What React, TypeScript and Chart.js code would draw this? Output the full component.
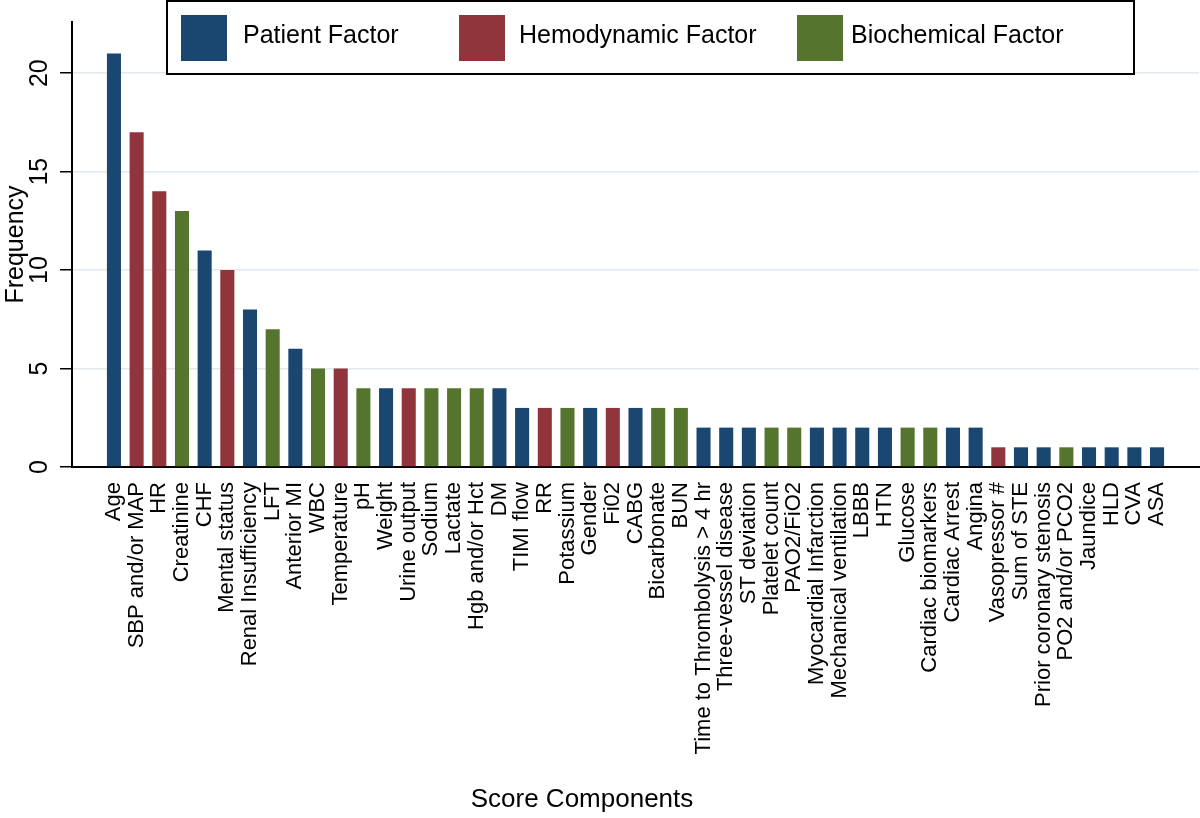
import React, { useEffect, useRef } from "react";
import { Chart, registerables } from "chart.js";

Chart.register(...registerables);

const categories = [
  "Age", "SBP and/or MAP", "HR", "Creatinine", "CHF", "Mental status",
  "Renal Insufficiency", "LFT", "Anterior MI", "WBC", "Temperature", "pH",
  "Weight", "Urine output", "Sodium", "Lactate", "Hgb and/or Hct", "DM",
  "TIMI flow", "RR", "Potassium", "Gender", "Fi02", "CABG", "Bicarbonate",
  "BUN", "Time to Thrombolysis > 4 hr", "Three-vessel disease", "ST deviation",
  "Platelet count", "PAO2/FiO2", "Myocardial Infarction", "Mechanical ventilation",
  "LBBB", "HTN", "Glucose", "Cardiac biomarkers", "Cardiac Arrest", "Angina",
  "Vasopressor #", "Sum of STE", "Prior coronary stenosis", "PO2 and/or PCO2",
  "Jaundice", "HLD", "CVA", "ASA",
];

const frequencies = [
  21, 17, 14, 13, 11, 10, 8, 7, 6, 5, 5, 4, 4, 4, 4, 4, 4, 4,
  3, 3, 3, 3, 3, 3, 3, 3,
  2, 2, 2, 2, 2, 2, 2, 2, 2, 2, 2, 2, 2,
  1, 1, 1, 1, 1, 1, 1, 1,
];

// 0 = Patient, 1 = Hemodynamic, 2 = Biochemical
const factorOf = [
  0, 1, 1, 2, 0, 1, 0, 2, 0, 2, 1, 2, 0, 1, 2, 2, 2, 0,
  0, 1, 2, 0, 1, 0, 2, 2,
  0, 0, 0, 2, 2, 0, 0, 0, 0, 2, 2, 0, 0,
  1, 0, 0, 2, 0, 0, 0, 0,
];

const factorNames = ["Patient Factor", "Hemodynamic Factor", "Biochemical Factor"];
const factorColors = ["#1a476f", "#90353b", "#55752f"];
const yTickValues = [0, 5, 10, 15, 20];
const yTitle = "Frequency";
const xTitle = "Score Components";

const FONT = '"Liberation Sans", Arial, Helvetica, sans-serif';

export default function App() {
  const canvasRef = useRef<HTMLCanvasElement | null>(null);

  useEffect(() => {
    const canvas = canvasRef.current;
    if (!canvas) return;

    const overlay = {
      id: "overlay",
      afterDraw(chart: any) {
        const ctx = chart.ctx as CanvasRenderingContext2D;
        const y = chart.scales.y;
        const area = chart.chartArea;
        ctx.save();
        ctx.fillStyle = "#000";
        // y tick labels (rotated)
        ctx.font = `25px ${FONT}`;
        ctx.textAlign = "center";
        ctx.textBaseline = "alphabetic";
        yTickValues.forEach((v) => {
          const py = y.getPixelForValue(v);
          ctx.save();
          ctx.translate(47, py);
          ctx.rotate(-Math.PI / 2);
          ctx.fillText(String(v), 0, 0);
          ctx.restore();
        });
        // y title
        ctx.save();
        ctx.translate(23, (area.top + area.bottom) / 2);
        ctx.rotate(-Math.PI / 2);
        ctx.font = `25px ${FONT}`;
        ctx.fillText(yTitle, 0, 0);
        ctx.restore();
        // x title
        ctx.font = `26px ${FONT}`;
        ctx.textAlign = "center";
        ctx.fillText(xTitle, 582, 807);

        // legend
        ctx.fillStyle = "#fff";
        ctx.fillRect(167, 1, 967, 73);
        ctx.strokeStyle = "#000";
        ctx.lineWidth = 2;
        ctx.strokeRect(167, 1, 967, 73);
        const swatchX = [181, 459, 797];
        const textX = [243, 519, 851];
        ctx.font = `25px ${FONT}`;
        ctx.textAlign = "left";
        factorNames.forEach((name, i) => {
          ctx.fillStyle = factorColors[i];
          ctx.fillRect(swatchX[i], 15, 46, 46);
          ctx.fillStyle = "#000";
          ctx.fillText(name, textX[i], 43);
        });
        ctx.restore();
      },
    };

    const chart = new Chart(canvas, {
      type: "bar",
      data: {
        datasets: [
          {
            data: frequencies.map((v, i) => ({ x: i, y: v })),
            backgroundColor: factorOf.map((f) => factorColors[f]),
            borderWidth: 0,
            barPercentage: 0.62,
            categoryPercentage: 1,
          },
        ],
      },
      options: {
        animation: false,
        responsive: false,
        layout: { padding: { top: 22, right: 1, left: 0, bottom: 0 } },
        plugins: {
          legend: { display: false },
          tooltip: { enabled: false },
        },
        scales: {
          x: {
            type: "linear",
            offset: false,
            min: -1.85,
            max: 47.85,
            afterBuildTicks: (scale: any) => {
              scale.ticks = categories.map((_, i) => ({ value: i }));
            },
            afterFit: (scale: any) => {
              scale.height = 351;
            },
            grid: { display: false, drawTicks: false, offset: false },
            border: { display: true, color: "#000", width: 2 },
            ticks: {
              autoSkip: false,
              minRotation: 90,
              maxRotation: 90,
              padding: 15,
              color: "#000",
              font: { family: FONT, size: 22 },
              callback: (value: any) => categories[value as number] ?? "",
            },
          },
          y: {
            min: 0,
            max: 22.6,
            afterBuildTicks: (scale: any) => {
              scale.ticks = yTickValues.map((v) => ({ value: v }));
            },
            afterFit: (scale: any) => {
              scale.width = 72;
            },
            ticks: { display: false, stepSize: 5 },
            grid: {
              color: (c: any) => (c.tick && c.tick.value === 0 ? "rgba(0,0,0,0)" : "#e2eaef"),
              lineWidth: 1.5,
              drawTicks: true,
              tickLength: 12,
              tickColor: "#000",
              tickWidth: 1.5,
            },
            border: { display: true, color: "#000", width: 2 },
          },
        },
      },
      plugins: [overlay],
    } as any);

    return () => {
      chart.destroy();
    };
  }, []);

  return (
    <div style={{ position: "absolute", left: 0, top: 0, width: 1200, height: 818, background: "#fff" }}>
      <canvas ref={canvasRef} width={1200} height={818} style={{ display: "block", width: 1200, height: 818 }} />
    </div>
  );
}
